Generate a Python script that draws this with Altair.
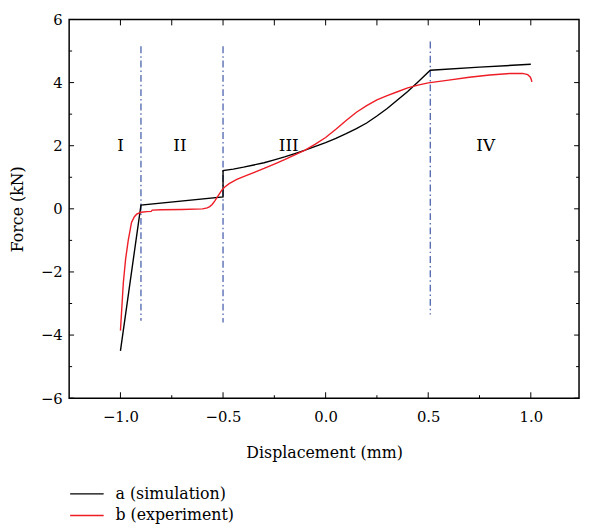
import altair as alt
import pandas as pd

# ---- data ----
sim_x = [-1.0, -0.9, -0.5, -0.5, -0.45, -0.4, -0.35, -0.3, -0.25, -0.2, -0.15, -0.1, -0.05, 0.0,
         0.05, 0.1, 0.15, 0.2, 0.25, 0.3, 0.35, 0.4, 0.45, 0.51, 0.75, 1.0]
sim_y = [-4.5, 0.12, 0.38, 1.21, 1.26, 1.32, 1.39, 1.46, 1.55, 1.645, 1.75, 1.86, 1.98, 2.1,
         2.23, 2.38, 2.54, 2.72, 2.94, 3.18, 3.45, 3.72, 4.02, 4.39, 4.49, 4.58]

exp_x = [-1.0, -0.986, -0.975, -0.962, -0.946, -0.932, -0.921, -0.9, -0.87, -0.85, -0.845, -0.8,
         -0.7, -0.6, -0.577, -0.565, -0.553, -0.54, -0.529, -0.517, -0.505, -0.49, -0.47, -0.433,
         -0.385, -0.3, -0.25, -0.2, -0.15, -0.1, -0.05, 0.0, 0.05, 0.1, 0.15, 0.2, 0.25, 0.3, 0.35,
         0.4, 0.45, 0.5, 0.6, 0.7, 0.8, 0.9, 0.96, 0.985, 0.998, 1.003, 1.005]
exp_y = [-3.86, -2.35, -1.6, -1.0, -0.43, -0.25, -0.17, -0.11, -0.09, -0.08, -0.04, -0.03,
         -0.02, 0.0, 0.03, 0.07, 0.14, 0.25, 0.36, 0.48, 0.6, 0.7, 0.8, 0.93,
         1.06, 1.28, 1.42, 1.56, 1.71, 1.86, 2.05, 2.26, 2.52, 2.8, 3.06, 3.27, 3.45, 3.59, 3.71,
         3.83, 3.92, 3.99, 4.08, 4.17, 4.24, 4.29, 4.29, 4.25, 4.17, 4.08, 4.02]

series_names = ["a (simulation)", "b (experiment)"]
series_colors = ["#000000", "#ee1c25"]

# region boundaries (dash-dot lines)
bound_x = [-0.9, -0.5, 0.51]
bound_top = [5.15, 5.15, 5.3]
bound_bot = [-3.55, -3.6, -3.35]

region_labels = ["I", "II", "III", "IV"]
region_x = [-1.0, -0.71, -0.18, 0.78]
region_y = [2.0, 2.0, 2.0, 2.0]

x_major = [-1.0, -0.5, 0.0, 0.5, 1.0]
x_minor = [-0.75, -0.25, 0.25, 0.75]
y_major = [-6, -4, -2, 0, 2, 4, 6]
y_minor = [-5, -3, -1, 1, 3, 5]

# ---- tables ----
rows = []
for i, (x, y) in enumerate(zip(sim_x, sim_y)):
    rows.append({"x": x, "y": y, "series": series_names[0], "o": i})
for i, (x, y) in enumerate(zip(exp_x, exp_y)):
    rows.append({"x": x, "y": y, "series": series_names[1], "o": i})
curves = pd.DataFrame(rows)
bounds = pd.DataFrame({"x": bound_x, "y": bound_top, "y2": bound_bot})
regions = pd.DataFrame({"x": region_x, "y": region_y, "t": region_labels})

W, H = 517, 384
FONT = "DejaVu Serif"
FS = 15
xs = alt.Scale(domain=[-1.25, 1.235], nice=False, zero=False)
ys = alt.Scale(domain=[-6, 6], nice=False, zero=False)

lines = alt.Chart(curves).mark_line(strokeWidth=1.4).encode(
    x=alt.X("x:Q", scale=xs, title="Displacement (mm)",
            axis=alt.Axis(values=x_major, format=".1f", ticks=False, grid=False,
                          domain=False, labelPadding=12, titlePadding=20)),
    y=alt.Y("y:Q", scale=ys, title="Force (kN)",
            axis=alt.Axis(values=y_major, format="d", ticks=False, grid=False,
                          domain=False, labelPadding=7, titlePadding=15)),
    color=alt.Color("series:N",
                    scale=alt.Scale(domain=series_names, range=series_colors),
                    legend=alt.Legend(title=None, orient="none", legendX=7, legendY=470,
                                      symbolType="M-1.7,0H1.7", symbolSize=400,
                                      symbolStrokeWidth=1.4, labelOffset=18,
                                      rowPadding=3, padding=0)),
    order="o:Q",
    detail="series:N",
)

blines = alt.Chart(bounds).mark_rule(color="#4a62ad", strokeWidth=1.3,
                                     strokeDash=[7, 3, 1.5, 3]).encode(
    x=alt.X("x:Q", scale=xs), y=alt.Y("y:Q", scale=ys), y2="y2:Q")

rtext = alt.Chart(regions).mark_text(font=FONT, fontSize=17, color="black").encode(
    x=alt.X("x:Q", scale=xs), y=alt.Y("y:Q", scale=ys), text="t:N")

def xticks(vals, length, bottom):
    d = pd.DataFrame({"v": vals})
    if bottom:
        return alt.Chart(d).mark_rule(color="black", strokeWidth=1).encode(
            x=alt.X("v:Q", scale=xs), y=alt.value(H), y2=alt.value(H - length))
    return alt.Chart(d).mark_rule(color="black", strokeWidth=1).encode(
        x=alt.X("v:Q", scale=xs), y=alt.value(0), y2=alt.value(length))

def yticks(vals, length, left):
    d = pd.DataFrame({"v": vals})
    if left:
        return alt.Chart(d).mark_rule(color="black", strokeWidth=1).encode(
            y=alt.Y("v:Q", scale=ys), x=alt.value(0), x2=alt.value(length))
    return alt.Chart(d).mark_rule(color="black", strokeWidth=1).encode(
        y=alt.Y("v:Q", scale=ys), x=alt.value(W), x2=alt.value(W - length))

ticks = [
    xticks(x_major, 6, True), xticks(x_minor, 3, True),
    xticks(x_major, 6, False), xticks(x_minor, 6, False),
    yticks(y_major, 5, True), yticks(y_minor, 3, True),
    yticks(y_major, 5, False), yticks(y_minor, 3, False),
]

chart = alt.layer(blines, lines, rtext, *ticks).properties(
    width=W, height=H,
    autosize=alt.AutoSizeParams(type="none"),
    padding={"left": 62, "top": 8, "right": 2, "bottom": 128},
).configure_view(
    stroke="black", strokeWidth=1.5
).configure_axis(
    labelFont=FONT, titleFont=FONT, labelFontSize=FS, titleFontSize=16,
    labelColor="black", titleColor="black", titleFontWeight="normal",
).configure_legend(
    labelFont=FONT, labelFontSize=16, labelColor="black",
)

chart.save("out.html", embed_options={"renderer": "svg", "actions": False})
